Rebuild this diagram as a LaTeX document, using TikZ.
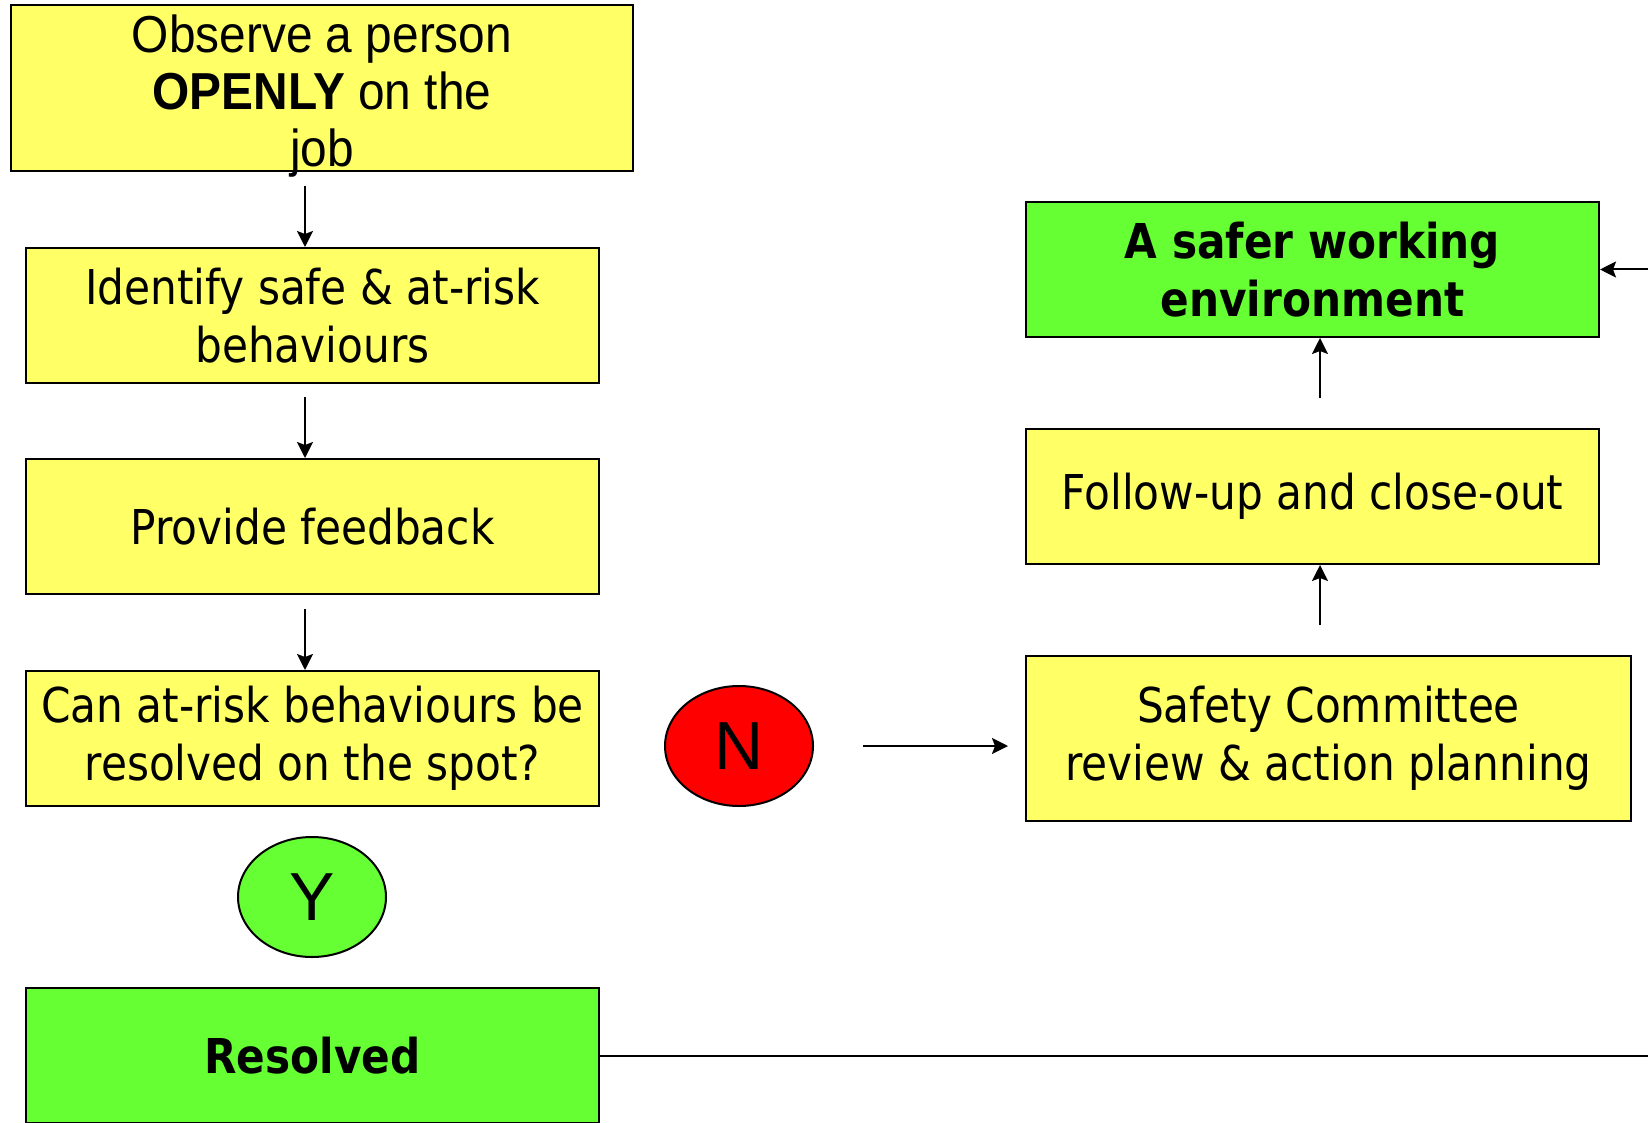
\documentclass[tikz,border=0pt]{standalone}
\usepackage{fontspec}
\setmainfont[FakeStretch=0.88]{DejaVu Sans}
\newfontfamily\narrowfont[FakeStretch=0.92]{Liberation Sans}
\newfontfamily\letterfont{Liberation Sans}
\usetikzlibrary{shapes,calc,arrows.meta}
\definecolor{boxyellow}{HTML}{FFFF66}
\definecolor{goodgreen}{HTML}{66FF33}
\definecolor{stopred}{HTML}{FF0000}

\begin{document}
\begin{tikzpicture}[x=0.5pt, y=-0.5pt, line width=1pt]
    \tikzstyle{every node}=[align = center, inner sep=0pt,
				% The border:
				draw=black, line width=1pt,
				font=\fontsize{24}{29}\selectfont
					]
    \tikzstyle{yellowbox} = [fill=boxyellow, minimum width=286.5pt, minimum height=67.5pt]
    \tikzstyle{greenbox} = [fill=goodgreen, minimum width=286.5pt, minimum height=67.5pt, font=\fontsize{24}{29}\selectfont\bfseries]
    \tikzstyle{answer} = [ellipse, minimum width=74pt, minimum height=60pt, font=\letterfont\fontsize{34}{34}\selectfont]
    \tikzstyle{flow} = [-{Stealth[length=8pt, width=8pt, inset=1.5pt]}]
    \useasboundingbox (0,0) rectangle (1648,1123);
    \clip (0,0) rectangle (1648,1123);

    % left column
    \node[yellowbox, minimum width=311pt, minimum height=83pt,
          font=\narrowfont\fontsize{26}{28.5}\selectfont] (observe) at (322,88)
        {\raisebox{-11.2pt}[0pt][0pt]{\begin{tabular}{@{}c@{}}Observe a person\\\textbf{OPENLY} on the\\job\end{tabular}}};
    \node[yellowbox] (identify) at (312.5,315.5) {Identify safe \& at-risk\\behaviours};
    \node[yellowbox] (feedback) at (312.5,526.5) {Provide feedback};
    \node[yellowbox] (spot) at (312.5,738.5) {Can at-risk behaviours be\\resolved on the spot?};
    \node[answer, fill=goodgreen] (yes) at (312,897) {Y};
    \node[greenbox] (resolved) at (312.5,1055.5) {Resolved};

    % right column
    \node[answer, fill=stopred] (no) at (739,746) {N};
    \node[yellowbox, minimum width=302.5pt, minimum height=82.5pt] (review) at (1328.5,738.5)
        {Safety Committee\\review \& action planning};
    \node[yellowbox] (followup) at (1312.5,496.5) {Follow-up and close-out};
    \node[greenbox] (safer) at (1312.5,269.5) {A safer working\\environment};

    % connectors
    \draw[flow] ([xshift=-3.75pt,yshift=30.5pt]identify.north) -- ([xshift=-3.75pt]identify.north);
    \draw[flow] ([xshift=-3.75pt,yshift=30.5pt]feedback.north) -- ([xshift=-3.75pt]feedback.north);
    \draw[flow] ([xshift=-3.75pt,yshift=30.5pt]spot.north) -- ([xshift=-3.75pt]spot.north);
    \draw[flow, shorten <=24.5pt, shorten >=8.5pt] (no.east) -- (no.east -| review.west);
    \draw[flow] ([xshift=3.75pt,yshift=-30pt]followup.south) -- ([xshift=3.75pt]followup.south);
    \draw[flow] ([xshift=3.75pt,yshift=-30pt]safer.south) -- ([xshift=3.75pt]safer.south);
    \draw[flow] (resolved.east) -- (1720,1055.5) |- (safer.east);
\end{tikzpicture}
\end{document}
